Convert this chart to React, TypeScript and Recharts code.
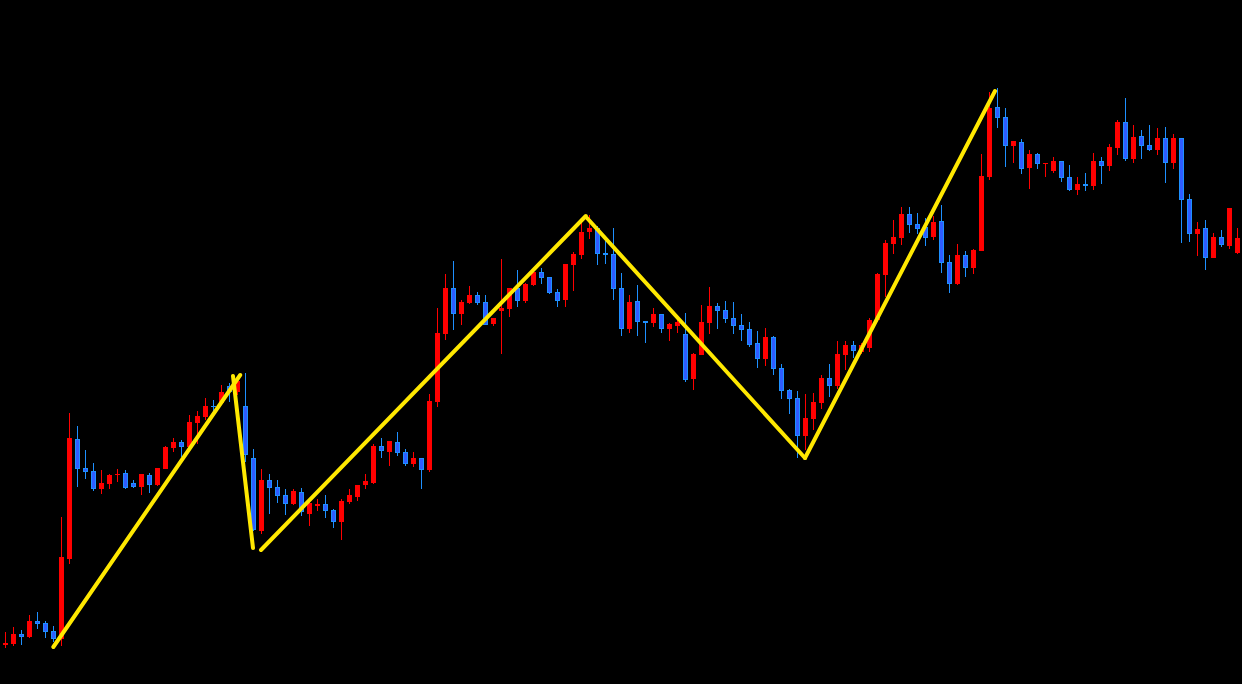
import { ComposedChart, Bar, Scatter, XAxis, YAxis } from 'recharts';

const opens = [
  55, 56, 66, 63, 79, 77, 69, 61, 141, 261,
  232, 229, 211, 216, 225, 227, 217, 213, 225, 215,
  231, 252, 258, 253, 277, 283, 294, 297, 314, 308,
  294, 242, 169, 220, 213, 205, 196, 208, 186, 194,
  196, 190, 178, 198, 203, 215, 217, 254, 248, 258,
  248, 236, 242, 230, 298, 366, 412, 386, 397, 405,
  398, 376, 389, 391, 412, 399, 415, 428, 423, 408,
  400, 435, 445, 468, 472, 447, 446, 412, 371, 399,
  379, 377, 386, 371, 374, 366, 321, 345, 377, 394,
  390, 382, 375, 371, 357, 341, 363, 332, 310, 302,
  264, 281, 297, 322, 314, 345, 355, 348, 352, 380,
  425, 456, 462, 486, 476, 473, 463, 479, 438, 416,
  445, 432, 449, 523, 593, 583, 554, 558, 532, 546,
  536, 529, 539, 523, 510, 516, 514, 539, 534, 552,
  578, 541, 564, 555, 550, 562, 537, 562, 501, 466,
  472, 442, 463, 454, 447,
];

const closes = [
  57, 66, 63, 79, 76, 68, 61, 143, 262, 231,
  228, 211, 217, 225, 226, 212, 213, 226, 215, 232,
  253, 258, 253, 278, 284, 294, 293, 308, 308, 319,
  245, 170, 220, 212, 204, 196, 209, 188, 197, 196,
  189, 178, 199, 205, 215, 219, 254, 249, 259, 247,
  236, 242, 230, 299, 367, 412, 386, 398, 405, 397,
  375, 382, 392, 412, 399, 416, 428, 422, 407, 399,
  436, 446, 468, 472, 446, 445, 411, 371, 398, 378,
  377, 386, 371, 376, 378, 320, 346, 378, 394, 389,
  381, 374, 370, 355, 341, 363, 331, 309, 301, 264,
  282, 298, 322, 314, 346, 355, 349, 355, 380, 426,
  457, 463, 486, 475, 471, 462, 478, 437, 416, 445,
  432, 450, 524, 592, 582, 554, 559, 531, 546, 536,
  537, 539, 522, 510, 516, 514, 539, 534, 553, 578,
  541, 563, 554, 550, 562, 537, 562, 500, 466, 471,
  442, 463, 455, 492, 462,
];

const highs = [
  68, 73, 70, 85, 88, 79, 74, 183, 287, 274,
  250, 237, 230, 226, 231, 230, 220, 226, 227, 232,
  254, 262, 260, 285, 289, 302, 300, 315, 317, 322,
  327, 251, 231, 226, 220, 211, 211, 212, 200, 201,
  205, 191, 201, 211, 215, 226, 256, 262, 259, 268,
  251, 248, 242, 306, 392, 426, 439, 400, 414, 408,
  405, 382, 441, 412, 430, 417, 428, 432, 423, 411,
  436, 448, 480, 485, 474, 462, 472, 427, 405, 415,
  379, 392, 386, 377, 385, 387, 347, 395, 413, 397,
  399, 398, 386, 378, 369, 372, 364, 336, 311, 309,
  306, 307, 325, 336, 359, 359, 359, 357, 382, 427,
  460, 480, 493, 493, 487, 482, 484, 495, 445, 456,
  449, 451, 546, 608, 612, 592, 559, 561, 550, 547,
  537, 543, 539, 535, 523, 527, 547, 543, 556, 580,
  602, 575, 570, 575, 572, 573, 566, 562, 506, 478,
  480, 467, 470, 492, 472,
];

const lows = [
  52, 54, 55, 62, 71, 62, 58, 54, 136, 213,
  221, 209, 206, 211, 218, 211, 212, 205, 207, 214,
  231, 248, 243, 253, 256, 280, 285, 295, 298, 305,
  238, 169, 166, 186, 197, 185, 195, 184, 174, 189,
  182, 172, 160, 196, 199, 211, 216, 242, 234, 244,
  234, 233, 211, 228, 293, 360, 370, 375, 396, 395,
  375, 374, 346, 383, 393, 397, 414, 416, 406, 393,
  393, 409, 441, 461, 435, 436, 400, 364, 367, 364,
  357, 373, 367, 359, 367, 318, 310, 345, 366, 371,
  377, 366, 359, 353, 332, 334, 325, 301, 286, 242,
  250, 270, 291, 303, 311, 330, 342, 346, 348, 378,
  403, 446, 455, 467, 466, 454, 460, 427, 407, 415,
  423, 426, 449, 520, 572, 533, 537, 526, 511, 531,
  523, 527, 518, 509, 505, 509, 510, 516, 529, 545,
  539, 537, 541, 549, 545, 517, 531, 457, 458, 444,
  430, 442, 453, 451, 446,
];

// zigzag legs, bar index + price at each end
const zigzag = [
  [{ x: 6.04, y: 53 }, { x: 29.4, y: 325 }],
  [{ x: 28.5, y: 324 }, { x: 31.0, y: 152 }],
  [{ x: 32.0, y: 150 }, { x: 72.6, y: 484 }],
  [{ x: 72.75, y: 482 }, { x: 100.0, y: 242 }],
  [{ x: 100.0, y: 242 }, { x: 123.75, y: 609 }],
];

const candles = opens.map((open, i) => ({
  i,
  open,
  close: closes[i],
  high: highs[i],
  low: lows[i],
  range: [lows[i], highs[i]],
}));

const UP = '#ff0000';
const DOWN_FILL = '#2f5cff';
const DOWN_EDGE = '#1e90ff';
const ZZ = '#ffe800';

function Candle(props: any) {
  const { x, y, width, height, payload } = props;
  if (x == null || y == null) return null;
  const { open, close, high, low } = payload;
  const top = height >= 0 ? y : y + height;
  const h = Math.abs(height);
  const k = h / (high - low);
  const bx = Math.round(x);
  const bw = 5;
  const wx = bx + 2;
  const wTop = Math.round(top);
  const wBot = Math.round(top + h);
  const bTop = Math.round(top + (high - Math.max(open, close)) * k);
  const bBot = Math.round(top + (high - Math.min(open, close)) * k);
  const bH = Math.max(1, bBot - bTop);
  const up = close >= open;

  if (up) {
    return (
      <g shapeRendering="crispEdges">
        <rect x={wx} y={wTop} width={1} height={wBot - wTop} fill={UP} />
        <rect x={bx} y={bTop} width={bw} height={bH} fill={UP} />
      </g>
    );
  }
  return (
    <g shapeRendering="crispEdges">
      <rect x={wx} y={wTop} width={1} height={wBot - wTop} fill={DOWN_EDGE} />
      {bH > 2 ? (
        <rect
          x={bx + 0.5}
          y={bTop + 0.5}
          width={bw - 1}
          height={bH - 1}
          fill={DOWN_FILL}
          stroke={DOWN_EDGE}
          strokeWidth={1}
        />
      ) : (
        <rect x={bx} y={bTop} width={bw} height={bH} fill={DOWN_EDGE} />
      )}
    </g>
  );
}

const noDot = () => <g />;

export default function App() {
  return (
    <div style={{ position: 'absolute', top: 0, left: 0, width: 1242, height: 684, background: '#000' }}>
      <ComposedChart
        width={1242}
        height={684}
        data={candles}
        margin={{ top: 0, right: 1, bottom: 0, left: 1 }}
      >
        <XAxis dataKey="i" hide />
        <XAxis
          xAxisId="z"
          dataKey="x"
          type="number"
          domain={[-0.5, 154.5]}
          allowDataOverflow
          allowDecimals
          hide
        />
        <YAxis type="number" domain={[16, 700]} allowDataOverflow hide />
        <Bar dataKey="range" barSize={5} shape={<Candle />} isAnimationActive={false} />
        {zigzag.map((seg, n) => (
          <Scatter
            key={n}
            xAxisId="z"
            data={seg}
            dataKey="y"
            line={{ stroke: ZZ, strokeWidth: 4, strokeLinecap: 'round' }}
            lineType="joint"
            shape={noDot}
            isAnimationActive={false}
          />
        ))}
      </ComposedChart>
    </div>
  );
}
